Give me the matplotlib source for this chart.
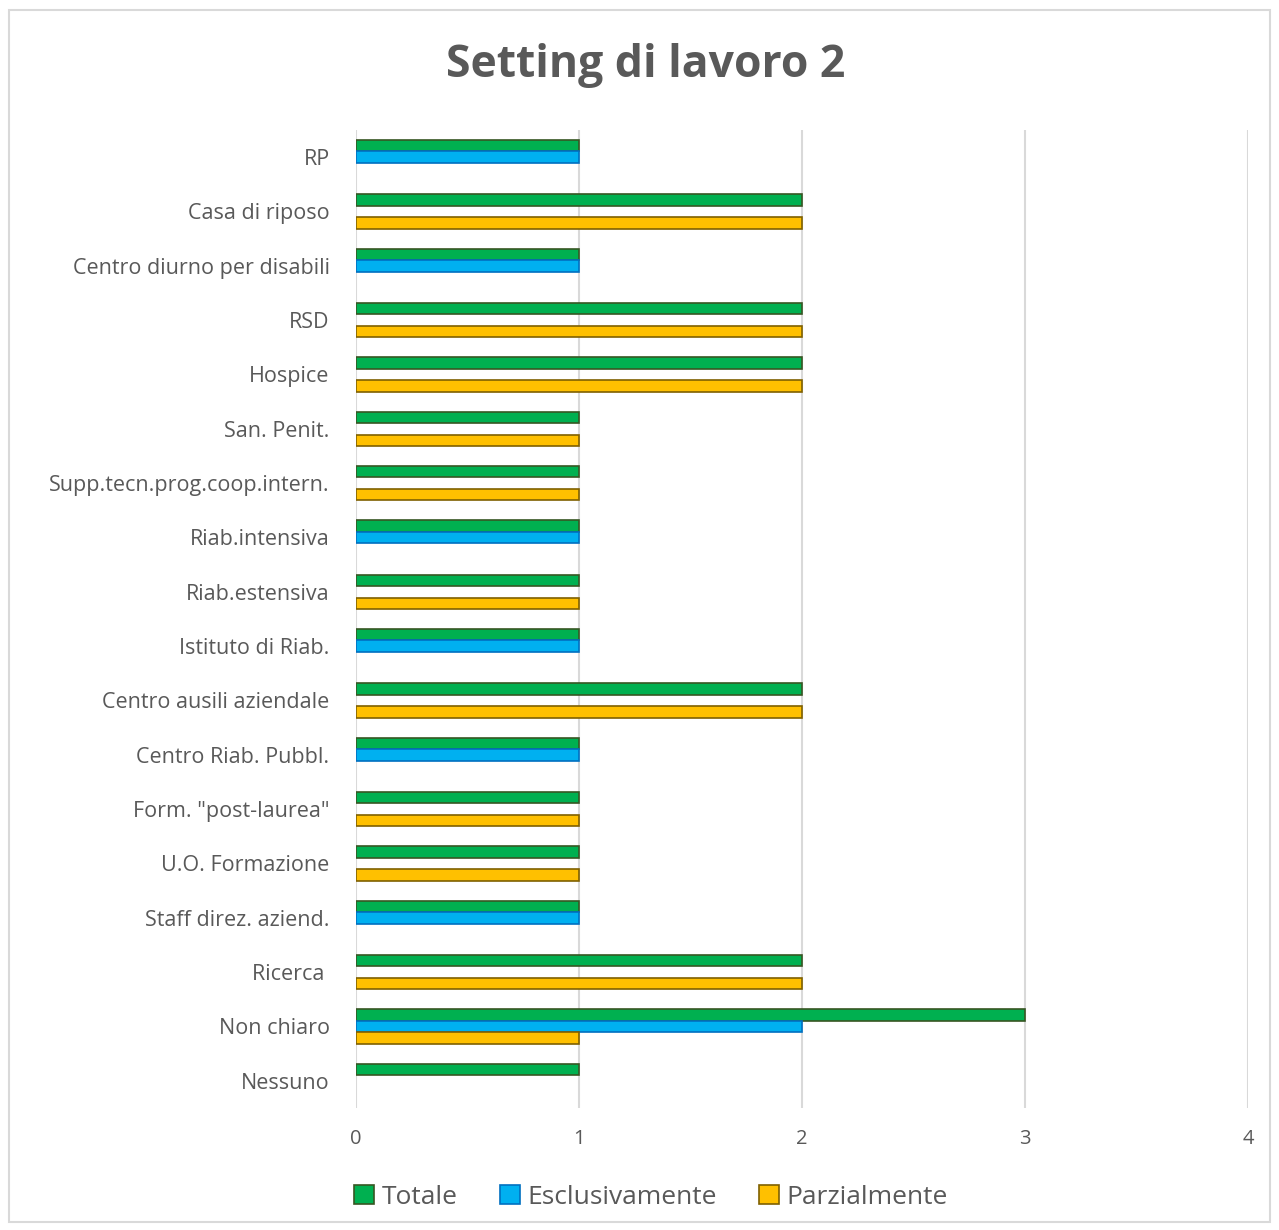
import matplotlib.pyplot as plt
from matplotlib.patches import Rectangle
import numpy as np

plt.rcParams['font.family'] = ['Open Sans', 'DejaVu Sans']

categories = ["RP", "Casa di riposo", "Centro diurno per disabili", "RSD",
              "Hospice", "San. Penit.", "Supp.tecn.prog.coop.intern.",
              "Riab.intensiva", "Riab.estensiva", "Istituto di Riab.",
              "Centro ausili aziendale", "Centro Riab. Pubbl.",
              "Form. \"post-laurea\"", "U.O. Formazione",
              "Staff direz. aziend.", "Ricerca ", "Non chiaro", "Nessuno"]
totale = [1, 2, 1, 2, 2, 1, 1, 1, 1, 1, 2, 1, 1, 1, 1, 2, 3, 1]
esclusivamente = [1, 0, 1, 0, 0, 0, 0, 1, 0, 1, 0, 1, 0, 0, 1, 0, 2, 0]
parzialmente = [0, 2, 0, 2, 2, 1, 1, 0, 1, 0, 2, 0, 1, 1, 0, 2, 1, 0]

series = [
    ("Totale", totale, "#00B050", "#375623"),
    ("Esclusivamente", esclusivamente, "#00B0F0", "#0070C0"),
    ("Parzialmente", parzialmente, "#FFC000", "#7F6000"),
]

grey = "#595959"
fig = plt.figure(figsize=(12.79, 12.30), dpi=100)
fig.patches.append(Rectangle((9 / 1279, 8 / 1230), 1261 / 1279, 1212 / 1230,
                             transform=fig.transFigure, fill=False,
                             edgecolor="#D9D9D9", linewidth=1.5))

ax = fig.add_axes([356 / 1279, 1 - 1108 / 1230, 892 / 1279, 978 / 1230])
y = np.arange(len(categories))
h = 0.21
for k, (name, vals, fc, ec) in enumerate(series):
    vals = np.array(vals)
    # empty bars get no outline so nothing shows at zero
    edges = [ec if v > 0 else "none" for v in vals]
    ax.barh(y + (k - 1) * h, vals, height=h, color=fc, edgecolor=edges,
            linewidth=1.2, label=name, zorder=3)

ax.set_xlim(0, 4)
ax.set_ylim(len(categories) - 0.5, -0.5)
ax.set_xticks([0, 1, 2, 3, 4])
ax.set_yticks(y)
ax.set_yticklabels(categories)
ax.grid(axis="x", color="#D9D9D9", linewidth=1.5, zorder=0)
ax.tick_params(axis="both", length=0, labelsize=15.5, colors=grey)
ax.tick_params(axis="x", pad=15, labelsize=14.5)
ax.tick_params(axis="y", pad=19)
for s in ax.spines.values():
    s.set_visible(False)

fig.text(0.505, 1 - 66 / 1230, "Setting di lavoro 2", ha="center", va="center",
         fontsize=32, fontweight="bold", color=grey)

leg = fig.legend(loc="center", bbox_to_anchor=(651 / 1279, 1 - 1197 / 1230),
                 ncol=3, frameon=False, fontsize=19, labelcolor=grey,
                 handlelength=0.75, handleheight=0.75, handletextpad=0.3,
                 columnspacing=1.6)
for patch, (_, _, _, ec) in zip(leg.get_patches(), series):
    patch.set_edgecolor(ec)

fig.savefig("out.png", dpi=100, facecolor="white")
